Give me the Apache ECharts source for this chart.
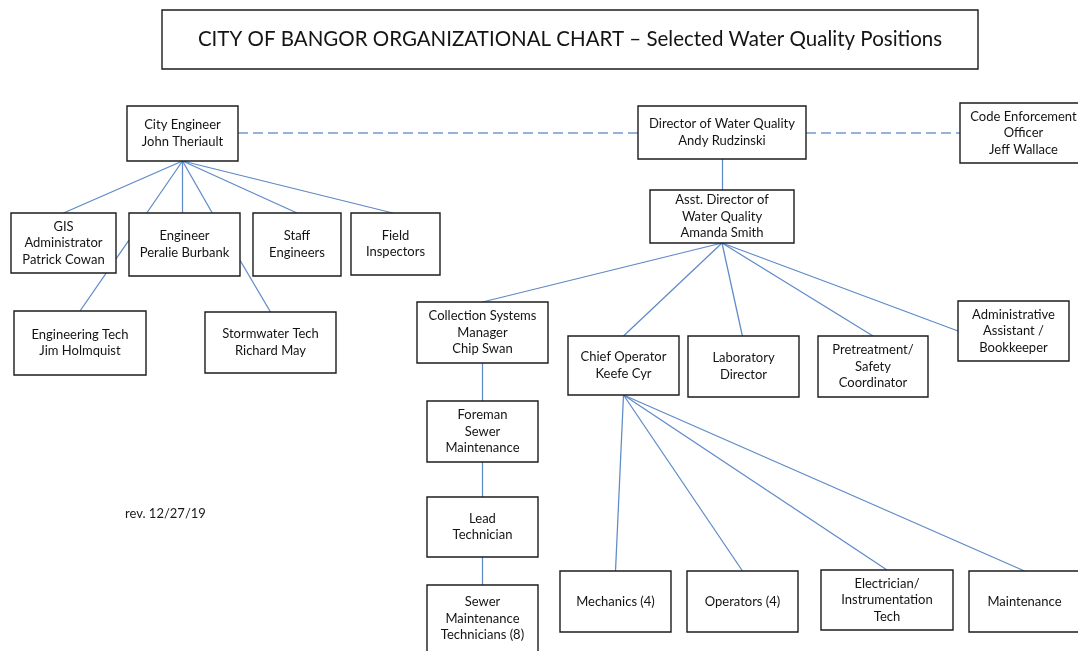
<!DOCTYPE html>
<html>
<head>
<meta charset="utf-8">
<script src="https://cdn.jsdelivr.net/npm/echarts@6/dist/echarts.min.js"></script>
<style>
html,body{margin:0;padding:0;background:#fff;}
#chart{width:1078px;height:651px;}
</style>
</head>
<body>
<div id="chart"></div>
<script>
// ---- chart content ----
const nodeIds = ['title','ce','gis','eng','staff','field','engtech','storm','dir','code','asst','coll','chief','lab','pre','admin','fore','lead','sewer','mech','oper','elec','maint'];
const nodeLabels = [
  'CITY OF BANGOR ORGANIZATIONAL CHART \u2013 Selected Water Quality Positions',
  'City Engineer\nJohn Theriault',
  'GIS\nAdministrator\nPatrick Cowan',
  'Engineer\nPeralie Burbank',
  'Staff\nEngineers',
  'Field\nInspectors',
  'Engineering Tech\nJim Holmquist',
  'Stormwater Tech\nRichard May',
  'Director of Water Quality\nAndy Rudzinski',
  'Code Enforcement\nOfficer\nJeff Wallace',
  'Asst. Director of\nWater Quality\nAmanda Smith',
  'Collection Systems\nManager\nChip Swan',
  'Chief Operator\nKeefe Cyr',
  'Laboratory\nDirector',
  'Pretreatment/\nSafety\nCoordinator',
  'Administrative\nAssistant /\nBookkeeper',
  'Foreman\nSewer\nMaintenance',
  'Lead\nTechnician',
  'Sewer\nMaintenance\nTechnicians (8)',
  'Mechanics (4)',
  'Operators (4)',
  'Electrician/\nInstrumentation\nTech',
  'Maintenance'
];
// reporting lines (parent -> child)
const solidLinks = [
  ['ce','gis'],['ce','eng'],['ce','eng'],['ce','eng'],['ce','staff'],['ce','field'],
  ['eng','engtech'],['eng','storm'],
  ['dir','asst'],
  ['asst','coll'],['asst','chief'],['asst','lab'],['asst','pre'],['asst','admin'],
  ['coll','fore'],['fore','lead'],['lead','sewer'],
  ['chief','mech'],['chief','oper'],['chief','elec'],['chief','maint']
];
const dashedLinks = [['ce','dir'],['dir','code']];
const revisionNote = 'rev. 12/27/19';

// ---- layout (box extents in chart units: x0, y0, x1, y1) ----
const boxLayout = {
  title:[162,10,978,69],
  ce:[127,106,238,161], gis:[11,213,116,273], eng:[129,213,240,276], staff:[253,213,341,276],
  field:[351,213,440,275], engtech:[14,311,146,375], storm:[205,312,336,373],
  dir:[638,106,806,159], code:[960,103,1087,163], asst:[650,190,794,243],
  coll:[417,302,548,363], chief:[568,336,679,395], lab:[688,336,799,397], pre:[818,336,928,397],
  admin:[958,301,1069,361], fore:[427,401,538,462], lead:[427,497,538,557], sewer:[427,585,538,652],
  mech:[560,571,671,632], oper:[687,571,798,632], elec:[821,570,953,630], maint:[969,571,1080,632]
};
// anchor fractions on each box for connectors [fromFx, fromFy, toFx, toFy]; default bottom-centre -> top-centre
const solidAnchors = [
  null,[0.5,1,0.16,0],[0.5,1,0.48,0],[0.5,1,0.75,0],null,[0.5,1,0.47,0],
  [0,0.43,0.5,0],[1,0.75,0.5,0],
  null,
  null,null,[0.5,1,0.49,0],null,[0.5,1,0,0.5],
  null,null,null,
  null,null,null,null
];
const dashedAnchors = [[1,0.49,0,0.51],[1,0.51,0,0.5]];

function anchorPoint(id, fx, fy){
  const b = boxLayout[id];
  return [b[0] + (b[2]-b[0])*fx, b[1] + (b[3]-b[1])*fy];
}
function buildLines(links, anchors){
  return links.map((l,i)=>{
    const a = anchors[i] || [0.5,1,0.5,0];
    return {coords:[anchorPoint(l[0],a[0],a[1]), anchorPoint(l[1],a[2],a[3])]};
  });
}
const boxData = nodeIds.map((id,i)=>{
  const b = boxLayout[id];
  return {value:[b[0],b[1],b[2],b[3]], name:nodeLabels[i], isTitle: id==='title'};
});

const chart = echarts.init(document.getElementById('chart'));
const FONT = 'Lato, "Open Sans", sans-serif';
chart.setOption({
  animation:false,
  backgroundColor:'#ffffff',
  grid:{left:0,right:0,top:0,bottom:0},
  xAxis:{type:'value',min:0,max:1078,show:false},
  yAxis:{type:'value',min:0,max:651,inverse:true,show:false},
  graphic:[{
    type:'text', left:125, top:507,
    style:{text:revisionNote, font:'13px '+FONT, fill:'#1a1a1a'}
  }],
  series:[
    {
      type:'lines', coordinateSystem:'cartesian2d', z:1, silent:true,
      lineStyle:{color:'#5f8ac8', width:1.25, opacity:1, curveness:0},
      data: buildLines(solidLinks, solidAnchors)
    },
    {
      type:'lines', coordinateSystem:'cartesian2d', z:1, silent:true,
      lineStyle:{color:'#94b3da', width:2, type:[10,5], opacity:1, curveness:0},
      data: buildLines(dashedLinks, dashedAnchors)
    },
    {
      type:'custom', coordinateSystem:'cartesian2d', z:2, silent:true, clip:false,
      data: boxData,
      encode:{x:[0,2], y:[1,3]},
      renderItem:function(params, api){
        const item = boxData[params.dataIndex];
        const p0 = api.coord([api.value(0), api.value(1)]);
        const p1 = api.coord([api.value(2), api.value(3)]);
        const w = p1[0]-p0[0], h = p1[1]-p0[1];
        const isTitle = item.isTitle;
        return {
          type:'group',
          children:[
            {type:'rect', shape:{x:p0[0], y:p0[1], width:w, height:h},
             style:{fill:'#ffffff', stroke:'#1c1c1c', lineWidth:1.4}},
            {type:'text', x:p0[0]+w/2, y:p0[1]+h/2,
             style:{text:item.name, align:'center', verticalAlign:'middle',
                    font:(isTitle?'20.5px ':'13px ')+FONT, lineHeight:isTitle?24:16.5, fill:'#141414'}}
          ]
        };
      }
    }
  ]
});
</script>
</body>
</html>
